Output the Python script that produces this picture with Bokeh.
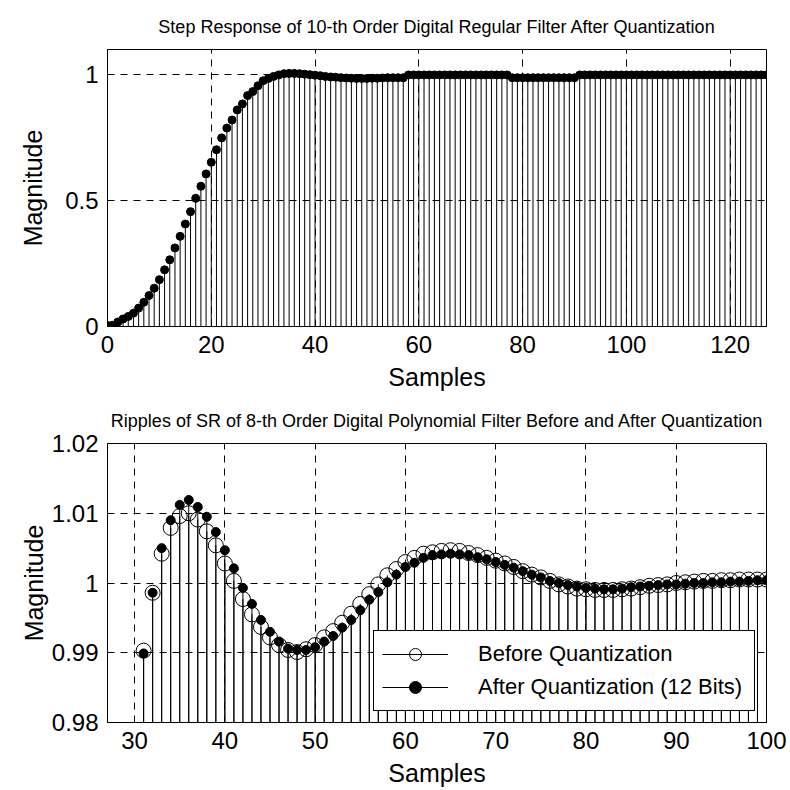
from bokeh.plotting import figure
from bokeh.layouts import column
from bokeh.models import (FixedTicker, CustomJSTickFormatter, Legend, LegendItem,
                          Range1d, ColumnDataSource)
from bokeh.embed import file_html
from bokeh.resources import INLINE

FONT = "Liberation Sans"

# ---------------- data ----------------
top_title = "Step Response of 10-th Order Digital Regular Filter After Quantization"
bottom_title = "Ripples of SR of 8-th Order Digital Polynomial Filter Before and After Quantization"

top_samples = list(range(128))
top_values = [
    0.004, 0.005, 0.018, 0.030, 0.040, 0.053, 0.073, 0.096, 0.123, 0.152,
    0.186, 0.225, 0.265, 0.312, 0.358, 0.407, 0.456, 0.509, 0.557, 0.606,
    0.652, 0.702, 0.749, 0.788, 0.820, 0.860, 0.884, 0.917, 0.933, 0.956,
    0.976, 0.985, 0.993, 0.999, 1.004, 1.005, 1.005, 1.004, 1.002, 1.000,
    0.998, 0.996, 0.993, 0.991, 0.990, 0.988, 0.987, 0.986, 0.985, 0.985,
    0.985, 0.986, 0.986, 0.987, 0.988, 0.988, 0.988, 0.988,
    0.999, 0.999, 0.999, 0.999, 0.999, 0.999, 0.999, 0.999, 0.999, 0.999,
    0.999, 0.999, 0.999, 0.999, 0.999, 0.999, 0.999, 0.999, 0.999, 0.999,
    0.988, 0.988, 0.988, 0.988, 0.988, 0.988, 0.988, 0.988, 0.988, 0.988,
    0.988, 0.988, 0.988,
    0.999, 0.999, 0.999, 0.999, 0.999, 0.999, 0.999, 0.999, 0.999, 0.999,
    0.999, 0.999, 0.999, 0.999, 0.999, 0.999, 0.999, 0.999, 0.999, 0.999,
    0.999, 0.999, 0.999, 0.999, 0.999, 0.999, 0.999, 0.999, 0.999, 0.999,
    0.999, 0.999, 0.999, 0.999, 0.999, 0.999, 0.999,
]
top_xticks = [0, 20, 40, 60, 80, 100, 120]
top_yticks = [0, 0.5, 1]

bottom_samples = list(range(31, 101))
before_values = [
    0.9903, 0.9986, 1.0042, 1.0079, 1.0096, 1.0100, 1.0091, 1.0074, 1.0054, 1.0028,
    1.0003, 0.9977, 0.9955, 0.9937, 0.9922, 0.9911, 0.9904, 0.9901, 0.9905, 0.9911,
    0.9922, 0.9931, 0.9943, 0.9956, 0.9970, 0.9984, 0.9998, 1.0011, 1.0020, 1.0030,
    1.0036, 1.0042, 1.0044, 1.0046, 1.0047, 1.0046, 1.0043, 1.0040, 1.0036, 1.0032,
    1.0028, 1.0023, 1.0017, 1.0012, 1.0008, 1.0003, 0.9998, 0.9995, 0.9992, 0.9991,
    0.9990, 0.9990, 0.9990, 0.9991, 0.9992, 0.9994, 0.9996, 0.9997, 0.9998, 1.0000,
    1.0001, 1.0002, 1.0003, 1.0003, 1.0004, 1.0004, 1.0005, 1.0005, 1.0005, 1.0005,
]
after_values = [
    0.9899, 0.9986, 1.0050, 1.0090, 1.0112, 1.0119, 1.0109, 1.0095, 1.0073, 1.0047,
    1.0021, 0.9993, 0.9970, 0.9947, 0.9930, 0.9916, 0.9906, 0.9904, 0.9904, 0.9908,
    0.9916, 0.9924, 0.9936, 0.9947, 0.9961, 0.9976, 0.9987, 1.0001, 1.0012, 1.0023,
    1.0029, 1.0036, 1.0040, 1.0041, 1.0042, 1.0041, 1.0040, 1.0037, 1.0034, 1.0030,
    1.0026, 1.0022, 1.0017, 1.0012, 1.0008, 1.0003, 1.0000, 0.9997, 0.9995, 0.9993,
    0.9992, 0.9991, 0.9991, 0.9992, 0.9994, 0.9995, 0.9996, 0.9997, 0.9998, 0.9998,
    0.9999, 1.0000, 1.0000, 1.0001, 1.0001, 1.0002, 1.0002, 1.0003, 1.0004, 1.0004,
]
bottom_xticks = [30, 40, 50, 60, 70, 80, 90, 100]
bottom_yticks = [0.98, 0.99, 1.0, 1.01, 1.02]

legend_labels = ["Before Quantization", "After Quantization (12 Bits)"]
x_label = "Samples"
y_label = "Magnitude"

# ---------------- helpers ----------------
yfmt = CustomJSTickFormatter(code="return Number(tick.toFixed(4)).toString();")


def style(p, xticks, yticks, ylab_standoff, title_standoff):
    p.title.text_font = FONT
    p.title.text_font_size = "18px"
    p.title.text_font_style = "normal"
    p.title.align = "center"
    p.title.text_color = "black"
    p.title.standoff = title_standoff
    p.outline_line_color = "black"
    p.outline_line_alpha = 1
    p.outline_line_width = 1
    for ax in (p.xaxis[0], p.yaxis[0]):
        ax.axis_line_color = "black"
        ax.major_tick_line_color = "black"
        ax.major_tick_in = 5
        ax.major_tick_out = 0
        ax.minor_tick_line_color = None
        ax.major_label_text_font = FONT
        ax.major_label_text_font_size = "24px"
        ax.major_label_text_color = "black"
        ax.axis_label_text_font = FONT
        ax.axis_label_text_font_size = "25px"
        ax.axis_label_text_font_style = "normal"
        ax.axis_label_text_color = "black"
    p.xaxis[0].ticker = FixedTicker(ticks=xticks)
    p.yaxis[0].ticker = FixedTicker(ticks=yticks)
    p.yaxis[0].formatter = yfmt
    p.xaxis[0].axis_label = x_label
    p.yaxis[0].axis_label = y_label
    p.yaxis[0].major_label_standoff = 9
    p.xaxis[0].major_label_standoff = 9
    p.yaxis[0].axis_label_standoff = ylab_standoff
    p.xaxis[0].axis_label_standoff = 7
    for g in (p.xgrid[0], p.ygrid[0]):
        g.grid_line_color = "black"
        g.grid_line_alpha = 1
        g.grid_line_width = 1
        g.grid_line_dash = "7 6"


# ---------------- top figure ----------------
p1 = figure(frame_width=659, frame_height=277,
            min_border_left=107, min_border_right=24, min_border_top=49, min_border_bottom=69,
            x_range=Range1d(0, 127), y_range=Range1d(0, 1.1),
            title=top_title, output_backend="svg", toolbar_location=None,
            background_fill_color="white", border_fill_color="white")
style(p1, top_xticks, top_yticks, 15, 25)

src1 = ColumnDataSource(dict(x=top_samples, y=top_values))
p1.segment(x0="x", y0=0, x1="x", y1="y", source=src1, line_color="black", line_width=1)
p1.scatter("x", "y", source=src1, size=8, marker="circle",
           fill_color="black", line_color="black")

# ---------------- bottom figure ----------------
p2 = figure(frame_width=659, frame_height=279,
            min_border_left=107, min_border_right=24, min_border_top=48, min_border_bottom=68,
            x_range=Range1d(27, 100), y_range=Range1d(0.98, 1.02),
            title=bottom_title, output_backend="svg", toolbar_location=None,
            background_fill_color="white", border_fill_color="white")
style(p2, bottom_xticks, bottom_yticks, 1, 26)

src2 = ColumnDataSource(dict(x=bottom_samples, before=before_values, after=after_values))
seg_b = p2.segment(x0="x", y0=0, x1="x", y1="before", source=src2,
                   line_color="black", line_width=1)
sc_b = p2.scatter("x", "before", source=src2, size=15, marker="circle",
                  fill_color=None, line_color="black", line_width=1)
seg_a = p2.segment(x0="x", y0=0, x1="x", y1="after", source=src2,
                   line_color="black", line_width=1)
sc_a = p2.scatter("x", "after", source=src2, size=9, marker="circle",
                  fill_color="black", line_color="black")

legend = Legend(items=[LegendItem(label=legend_labels[0], renderers=[seg_b, sc_b]),
                       LegendItem(label=legend_labels[1], renderers=[seg_a, sc_a])],
                location=(266, 11), margin=0, padding=8, spacing=3,
                glyph_width=66, glyph_height=30, label_height=30,
                label_standoff=30, label_width=268,
                label_text_font=FONT, label_text_font_size="22px",
                label_text_color="black",
                border_line_color="black", border_line_width=1, border_line_alpha=1,
                background_fill_color="white", background_fill_alpha=1)
p2.add_layout(legend)

layout = column(p1, p2, spacing=0)
open("out.html", "w").write(file_html(layout, INLINE))
